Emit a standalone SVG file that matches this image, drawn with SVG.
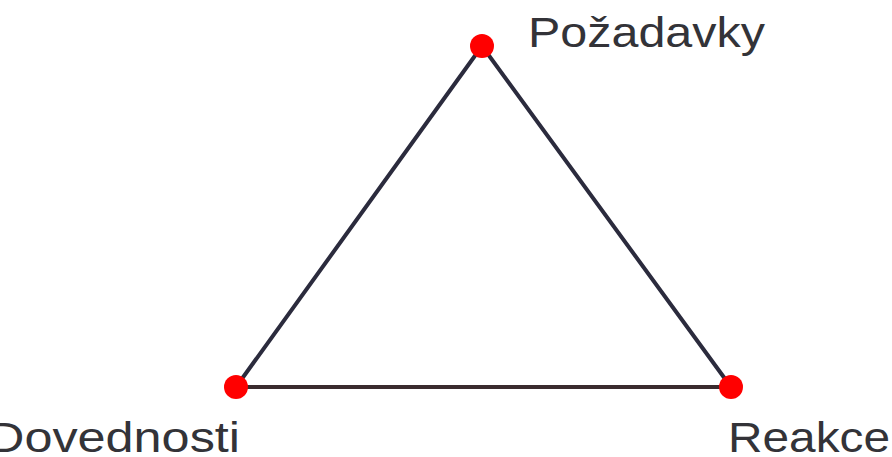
<svg xmlns="http://www.w3.org/2000/svg" width="892" height="457" viewBox="0 0 892 457">
<style>
.edge{stroke:#2b2b3d;stroke-width:4;fill:none;stroke-linecap:round}
.dot{fill:#ff0000}
.lbl{font-family:"Liberation Sans",Arial,sans-serif;font-size:42px;fill:#333338}
</style>
<rect width="892" height="457" fill="#ffffff"/>
<g id="connectors">
<line class="edge" x1="482" y1="46" x2="236" y2="387"/>
<line class="edge" x1="482" y1="46" x2="731" y2="387"/>
<line class="edge" x1="236" y1="387" x2="731" y2="387" style="stroke:#3a2b2e"/>
</g>
<g id="pozadavky">
<circle class="dot" cx="482" cy="46" r="12"/>
<text class="lbl" x="528" y="47" textLength="237" lengthAdjust="spacingAndGlyphs">Požadavky</text>
</g>
<g id="dovednosti">
<circle class="dot" cx="236" cy="387" r="12"/>
<text class="lbl" x="-12" y="452" textLength="252" lengthAdjust="spacingAndGlyphs">Dovednosti</text>
</g>
<g id="reakce">
<circle class="dot" cx="731" cy="387" r="12"/>
<text class="lbl" x="728" y="452" textLength="162" lengthAdjust="spacingAndGlyphs">Reakce</text>
</g>
</svg>
